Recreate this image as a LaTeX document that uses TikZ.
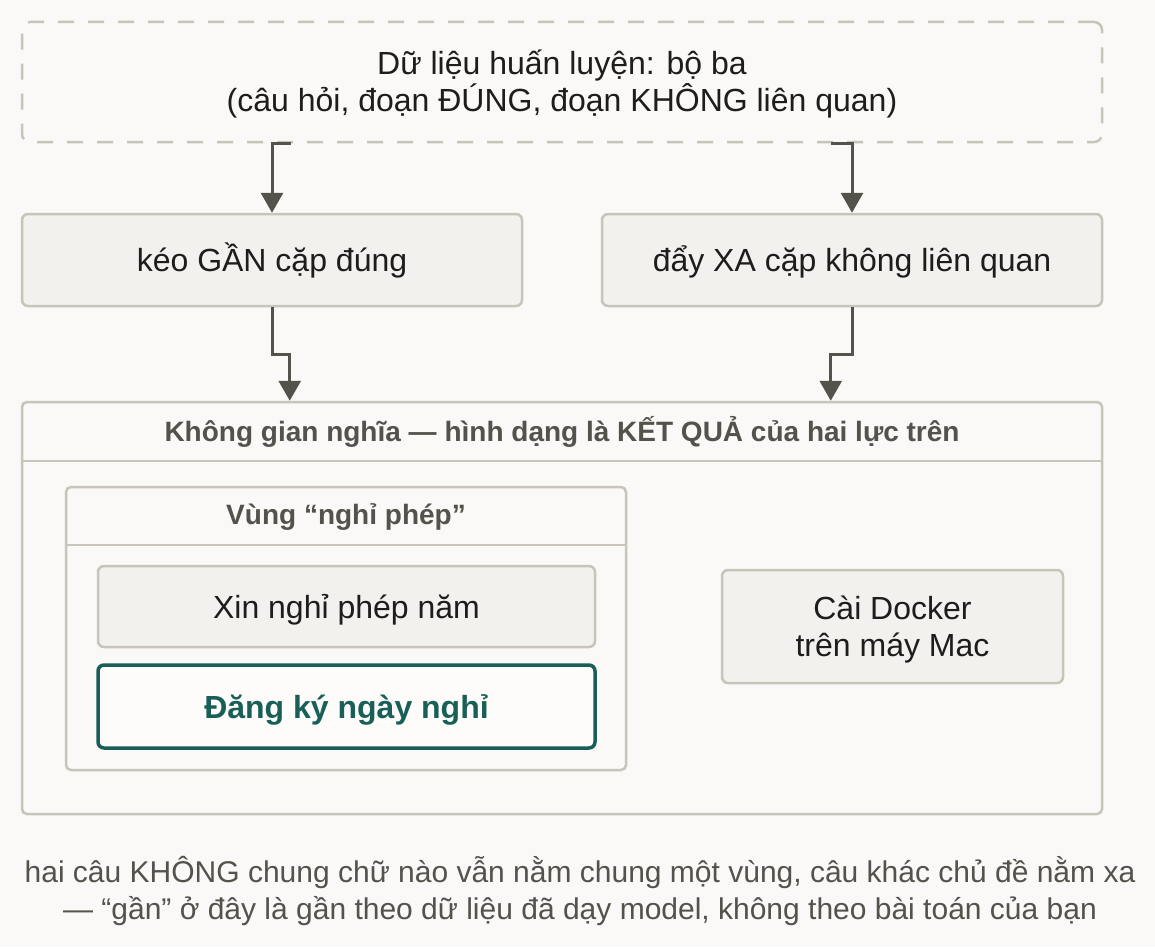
\documentclass[tikz,border=0pt]{standalone}
\usepackage{fontspec}
\setmainfont{Liberation Sans}
\usetikzlibrary{arrows.meta}
\definecolor{bgc}{HTML}{FAF9F7}
\definecolor{boxfill}{HTML}{F2F1EE}
\definecolor{edgec}{HTML}{C9C4BA}
\definecolor{arrowc}{HTML}{55524C}
\definecolor{titlec}{HTML}{55524C}
\definecolor{inkc}{HTML}{1E1D1B}
\definecolor{tealc}{HTML}{195F58}
\definecolor{hifill}{HTML}{FDFCFA}
\begin{document}
\begin{tikzpicture}[x=1pt,y=-1pt,
  card/.style={draw=edgec, line width=2.5pt, fill=boxfill, rounded corners=6pt, text=inkc,
    font=\fontsize{32}{37}\selectfont, align=center, inner sep=0pt, text height=30pt, text depth=7pt},
  twoline/.style={text height=67pt, text depth=7pt},
  frame/.style={draw=edgec, line width=2.5pt, rounded corners=5pt, fill=bgc, inner sep=0pt},
  dashframe/.style={draw=edgec, line width=2.5pt, rounded corners=8pt, dash pattern=on 16pt off 14pt,
    text=inkc, font=\fontsize{32}{37}\selectfont, align=center, inner sep=0pt},
  hilite/.style={draw=tealc, line width=3.5pt, fill=hifill, rounded corners=6pt, text=tealc,
    font=\bfseries\fontsize{32}{37}\selectfont, align=center, inner sep=0pt, text height=30pt, text depth=7pt},
  hdr/.style={text=titlec, font=\bfseries\fontsize{28}{33}\selectfont, inner sep=0pt, text height=27pt, text depth=5pt},
  hline/.style={draw=edgec, line width=2.5pt},
  arr/.style={draw=arrowc, line width=3pt, -{Triangle[length=20pt,width=22pt]}},
  note/.style={text=titlec, font=\fontsize{30}{37}\selectfont, align=center, inner sep=0pt}
]
\fill[bgc] (0,0) rectangle (1155,947);
\useasboundingbox (0,0) rectangle (1155,947);

% top data box
\node[dashframe, twoline, minimum width=1080pt, minimum height=120pt] (data) at (562,82)
  {Dữ liệu huấn luyện: bộ ba\\(câu hỏi, đoạn ĐÚNG, đoạn KHÔNG liên quan)};

% two forces
\node[card, minimum width=500pt, minimum height=92pt] (pull) at (272,260) {kéo GẦN cặp đúng};
\node[card, minimum width=500pt, minimum height=92pt] (push) at (852,260) {đẩy XA cặp không liên quan};

% semantic space
\node[frame, minimum width=1080pt, minimum height=412pt] (space) at (562,608) {};
\draw[hline] ([yshift=-60pt]space.north west) -- ([yshift=-60pt]space.north east);
\node[hdr] (spacetitle) at ([yshift=-30pt]space.north) {Không gian nghĩa — hình dạng là KẾT QUẢ của hai lực trên};

% region
\node[frame, minimum width=560pt, minimum height=283pt] (region) at (346,628.5) {};
\draw[hline] ([yshift=-59pt]region.north west) -- ([yshift=-59pt]region.north east);
\node[hdr, text height=24pt] (regiontitle) at ([yshift=-29.5pt]region.north) {Vùng “nghỉ phép”};

\node[card, minimum width=497pt, minimum height=81pt] (xin) at (346.5,606.5) {Xin nghỉ phép năm};
\node[hilite, minimum width=497pt, minimum height=83pt] (dang) at (346.5,706.5) {Đăng ký ngày nghỉ};

\node[card, twoline, minimum width=341pt, minimum height=113pt] (docker) at (892.5,626.5) {Cài Docker\\trên máy Mac};

% connectors
\draw[arr] ([xshift=270pt]data.south west) -| (pull.north);
\draw[arr] ([xshift=810pt]data.south west) -| (push.north);
\draw[arr] (pull.south) -- ++(0,47) -| ([xshift=269pt]space.north west);
\draw[arr] (push.south) -- ++(0,47) -| ([xshift=810pt]space.north west);

% caption
\node[note] (caption) at (580,891)
  {hai câu KHÔNG chung chữ nào vẫn nằm chung một vùng, câu khác chủ đề nằm xa\\— “gần” ở đây là gần theo dữ liệu đã dạy model, không theo bài toán của bạn};
\end{tikzpicture}
\end{document}
